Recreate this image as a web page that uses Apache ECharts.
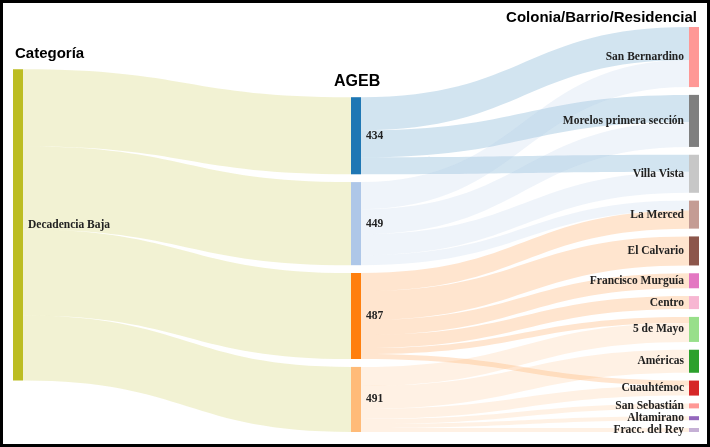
<!DOCTYPE html>
<html>
<head>
<meta charset="utf-8">
<script src="https://cdn.jsdelivr.net/npm/echarts@6/dist/echarts.min.js"></script>
<style>
  html, body { margin: 0; padding: 0; background: #fff; }
  #chart { width: 710px; height: 447px; }
</style>
</head>
<body>
<div id="chart"></div>
<script>
// ---- Data ----
const categorias = ['Decadencia Baja'];
const agebs = ['434', '449', '487', '491'];
const colonias = ['San Bernardino', 'Morelos primera sección', 'Villa Vista', 'La Merced',
  'El Calvario', 'Francisco Murguía', 'Centro', '5 de Mayo', 'Américas', 'Cuauhtémoc',
  'San Sebastián', 'Altamirano', 'Fracc. del Rey'];

// Categoría -> AGEB
const catAgebValues = [77, 83, 86, 65];

// AGEB -> Colonia
const linkSource = ['434', '434', '434',
  '449', '449', '449', '449',
  '487', '487', '487', '487', '487', '487',
  '491', '491', '491', '491', '491', '491'];
const linkTarget = ['San Bernardino', 'Morelos primera sección', 'Villa Vista',
  'San Bernardino', 'Morelos primera sección', 'Villa Vista', 'La Merced',
  'La Merced', 'El Calvario', 'Francisco Murguía', 'Centro', '5 de Mayo', 'Cuauhtémoc',
  '5 de Mayo', 'Américas', 'Cuauhtémoc', 'San Sebastián', 'Altamirano', 'Fracc. del Rey'];
const linkValue = [33, 27, 17,
  27, 25, 21, 10,
  18, 29, 15, 13, 6, 5,
  19, 23, 10, 5, 4, 4];

// ---- Styles ----
const catColors = ['#bcbd22'];
const agebColors = ['#1f77b4', '#aec7e8', '#ff7f0e', '#ffbb78'];
const coloniaColors = ['#ff9896', '#7f7f7f', '#c7c7c7', '#c49c94', '#8c564b', '#e377c2',
  '#f7b6d2', '#98df8a', '#2ca02c', '#d62728', '#ff9896', '#9467bd', '#c5b0d5'];

const SERIES_TOP = 27, SERIES_BOTTOM = 15;

function buildNodes(localY) {
  const nodes = [];
  const withY = (o) => { if (localY && localY[o.name] != null) o.localY = localY[o.name]; return o; };
  categorias.forEach((n, i) => nodes.push(withY({ name: n, depth: 0, itemStyle: { color: catColors[i] } })));
  agebs.forEach((n, i) => nodes.push(withY({ name: n, depth: 1, itemStyle: { color: agebColors[i] } })));
  colonias.forEach((n, i) => nodes.push({ name: n, depth: 2, itemStyle: { color: coloniaColors[i] },
    label: { position: 'left' } }));
  return nodes;
}

const links = [];
agebs.forEach((a, i) => links.push({ source: categorias[0], target: a, value: catAgebValues[i] }));
linkSource.forEach((s, i) => links.push({ source: s, target: linkTarget[i], value: linkValue[i] }));

function buildOption(iterations, localY) {
  return {
    animation: false,
    graphic: [
      { type: 'rect', shape: { x: 1.5, y: 1.5, width: 707, height: 444 },
        style: { fill: 'none', stroke: '#000', lineWidth: 3 }, z: 100 },
      { type: 'text', left: 15, top: 46,
        style: { text: 'Categoría', font: 'bold 15px "Liberation Sans", Arial, sans-serif', fill: '#000' } },
      { type: 'text', left: 334, top: 74,
        style: { text: 'AGEB', font: 'bold 16px "Liberation Sans", Arial, sans-serif', fill: '#000' } },
      { type: 'text', right: 13, top: 10,
        style: { text: 'Colonia/Barrio/Residencial', font: 'bold 15px "Liberation Sans", Arial, sans-serif', fill: '#000' } }
    ],
    series: [{
      type: 'sankey',
      left: 13, right: 11, top: SERIES_TOP, bottom: SERIES_BOTTOM,
      nodeWidth: 10,
      nodeGap: 7.8,
      nodeAlign: 'justify',
      layoutIterations: iterations,
      draggable: false,
      emphasis: { disabled: true },
      data: buildNodes(localY),
      links: links,
      label: {
        show: true,
        position: 'right',
        distance: 5,
        color: '#222',
        fontFamily: '"Liberation Serif", "Times New Roman", serif',
        fontWeight: 'bold',
        fontSize: 11.5
      },
      itemStyle: { borderWidth: 0 },
      lineStyle: { color: 'source', opacity: 0.2, curveness: 0.5 }
    }]
  };
}

const chart = echarts.init(document.getElementById('chart'), null, { renderer: 'canvas' });
// Pass 1: let ECharts relax the layout to place the first two columns.
chart.setOption(buildOption(32));
try {
  const graph = chart.getModel().getSeriesByIndex(0).getGraph();
  const layoutH = chart.getHeight() - SERIES_TOP - SERIES_BOTTOM;
  const localY = {};
  const keep = new Set(categorias.concat(agebs));
  graph.eachNode(function (node) {
    if (keep.has(node.id)) localY[node.id] = node.getLayout().y / layoutH;
  });
  // Pass 2: keep the third column in data order, reuse library positions of columns 1-2.
  chart.setOption(buildOption(0, localY), true);
} catch (e) {
  // keep pass-1 layout
}
</script>
</body>
</html>
